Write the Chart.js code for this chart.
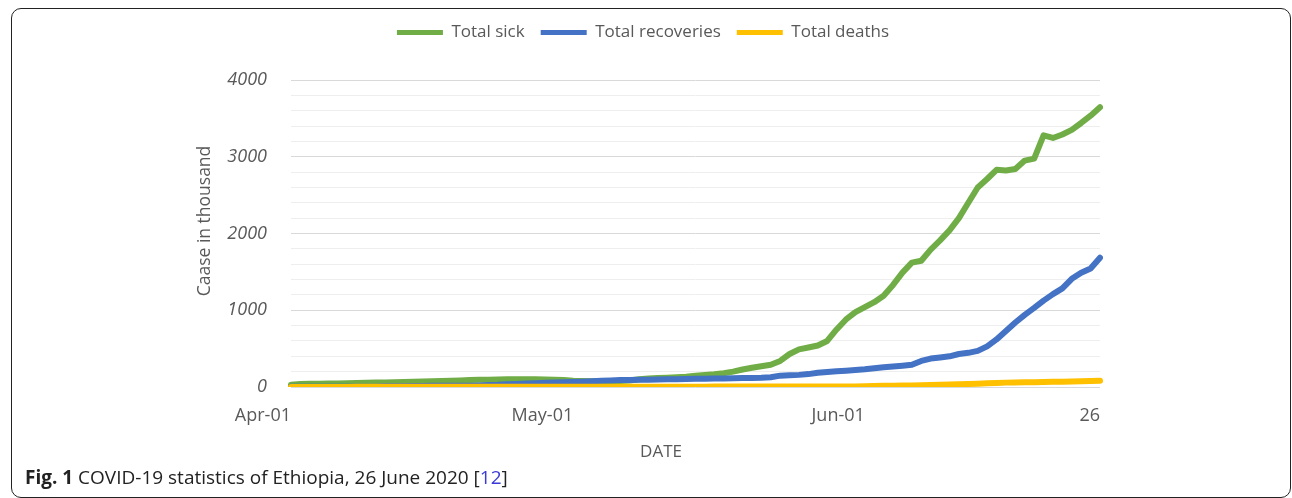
<!DOCTYPE html>
<html>
<head>
<meta charset="utf-8">
<script src="https://cdn.jsdelivr.net/npm/chart.js@4.4.0/dist/chart.umd.min.js"></script>
<style>
  html, body { margin: 0; padding: 0; background: #fff; }
  body { width: 1292px; height: 498px; position: relative; overflow: hidden; font-family: "Open Sans", sans-serif; }
  #frame { position: absolute; left: 11px; top: 8px; width: 1278px; height: 488px; border: 1px solid #222; border-radius: 10px; }
  #chartBox { position: absolute; left: 0; top: 0; width: 1292px; height: 498px; }
  #caption { position: absolute; left: 25px; top: 464px; font-size: 19px; color: #222; white-space: nowrap; }
  #caption b { font-weight: 700; }
  #caption .ref { color: #3a3ad6; }
</style>
</head>
<body>
<div id="frame"></div>
<div id="chartBox"><canvas id="covidChart" width="1292" height="498"></canvas></div>
<div id="caption"><b>Fig. 1</b> COVID-19 statistics of Ethiopia, 26 June 2020 [<span class="ref">12</span>]</div>
<script>
/* daily categories, 1 April .. 26 June 2020 */
const dates = [];
for (let d = new Date(2020, 3, 1); d <= new Date(2020, 5, 26); d.setDate(d.getDate() + 1)) {
  dates.push(d.toISOString().slice(0, 10));
}

// values (thousand, as labelled)
const totalSick = [
  30, 40, 42, 43, 45, 47, 50, 52, 55, 58,
  60, 63, 66, 69, 72, 75, 78, 82, 86, 90,
  93, 96, 98, 100, 101, 101, 100, 98, 95, 90,
  82, 78, 76, 75, 76, 78, 85, 100, 110, 117,
  122, 128, 135, 147, 155, 165, 180, 200, 228, 250,
  270, 290, 340, 430, 490, 515, 540, 600, 750, 880,
  975, 1040, 1105, 1190, 1330, 1490, 1620, 1645, 1790, 1910,
  2040, 2200, 2400, 2600, 2710, 2830, 2820, 2840, 2950, 2975,
  3280, 3245, 3290, 3350, 3440, 3535, 3645
];
const totalRecoveries = [
  4, 4, 4, 4, 4, 4, 4, 4, 4, 4,
  10, 10, 10, 12, 14, 15, 15, 16, 16, 16,
  21, 25, 28, 35, 40, 45, 50, 55, 58, 62,
  65, 70, 75, 80, 86, 90, 92, 94, 96, 98,
  100, 102, 104, 106, 108, 110, 112, 114, 116, 118,
  120, 128, 148, 152, 158, 168, 185, 195, 205, 212,
  220, 230, 245, 258, 268, 278, 290, 340, 370, 385,
  400, 430, 445, 470, 530, 620, 730, 840, 940, 1030,
  1125, 1210, 1285, 1410, 1490, 1545, 1685
];
const totalDeaths = [
  0, 0, 0, 0, 0, 1, 1, 2, 2, 2,
  2, 2, 2, 2, 2, 3, 3, 3, 3, 3,
  3, 3, 3, 3, 3, 3, 3, 3, 3, 3,
  3, 3, 3, 3, 3, 3, 3, 4, 4, 4,
  4, 4, 4, 4, 4, 5, 5, 5, 5, 5,
  5, 5, 5, 5, 5, 5, 5, 6, 7, 8,
  8, 11, 14, 15, 17, 18, 20, 24, 27, 29,
  32, 35, 40, 43, 48, 52, 57, 60, 61, 63,
  65, 68, 70, 72, 75, 78, 82
];

const seriesNames = ["Total sick", "Total recoveries", "Total deaths"];
const seriesColors = ["#70AD47", "#4472C4", "#FFC000"];

const xTickIndex = [0, 30, 61, 86];
const xTickText = ["Apr-01", "May-01", "Jun-01", "26"];
const yMax = 4000;

const textColor = "#595959";
const fontFamily = "'Open Sans', sans-serif";

/* axis titles sit where Excel put them, not centred on the plot */
const axisTitles = {
  id: "axisTitles",
  afterDraw(chart) {
    const ctx = chart.ctx;
    ctx.save();
    ctx.fillStyle = textColor;
    ctx.textAlign = "center";
    ctx.textBaseline = "middle";
    ctx.font = "17px " + fontFamily;
    ctx.fillText("DATE", 661, 452);
    ctx.font = "17.5px " + fontFamily;
    ctx.translate(205, 221);
    ctx.rotate(-Math.PI / 2);
    ctx.fillText("Caase in thousand", 0, 0);
    ctx.restore();
  }
};

/* legend is not centred on the plot in the original; nudge it */
const legendNudge = {
  id: "legendNudge",
  afterLayout(chart) {
    const lg = chart.legend;
    if (!lg) return;
    const dx = 93, top = 8;
    const h = lg.bottom - lg.top;
    lg.left += dx; lg.right += dx;
    lg.top = top; lg.bottom = top + h;
  }
};

const ctx = document.getElementById("covidChart").getContext("2d");
new Chart(ctx, {
  type: "line",
  data: {
    labels: dates,
    datasets: [totalSick, totalRecoveries, totalDeaths].map((vals, i) => ({
      label: seriesNames[i],
      data: vals,
      borderColor: seriesColors[i],
      backgroundColor: seriesColors[i],
      borderWidth: 6,
      borderCapStyle: "round",
      borderJoinStyle: "round",
      pointRadius: 0,
      tension: 0,
      order: 3 - i
    }))
  },
  options: {
    responsive: false,
    animation: false,
    layout: { padding: { top: 37, right: 192, bottom: 0, left: 0 } },
    plugins: {
      legend: {
        position: "top",
        labels: {
          color: textColor,
          font: { family: fontFamily, size: 17 },
          boxWidth: 46,
          boxHeight: 5,
          padding: 16,
          useBorderRadius: true,
          borderRadius: 2.5,
          generateLabels: chart => chart.data.datasets.map((ds, i) => ({
            text: ds.label,
            fillStyle: ds.borderColor,
            strokeStyle: ds.borderColor,
            lineWidth: 0,
            fontColor: textColor,
            datasetIndex: i,
            hidden: false
          }))
        }
      },
      tooltip: { enabled: false }
    },
    scales: {
      x: {
        type: "category",
        offset: false,
        grid: { display: false },
        border: { display: false },
        afterFit: scale => { scale.height = 111; },
        afterBuildTicks: scale => {
          scale.ticks = scale.ticks.filter(t => xTickIndex.includes(t.value));
        },
        ticks: {
          autoSkip: false,
          maxRotation: 0,
          align: "end",
          padding: 10,
          color: textColor,
          font: { family: fontFamily, size: 18 },
          callback: v => xTickText[xTickIndex.indexOf(v)]
        }
      },
      y: {
        min: 0,
        max: yMax,
        afterFit: scale => { scale.width = 291; },
        border: { display: false },
        grid: {
          drawTicks: false,
          color: c => (c.tick && c.tick.value % 1000 === 0) ? "#d9d9d9" : "#eeeeee",
          lineWidth: 1
        },
        ticks: {
          stepSize: 200,
          autoSkip: false,
          padding: 24,
          color: textColor,
          font: { family: fontFamily, size: 18, style: "italic" },
          callback: v => (v % 1000 === 0 ? v : "")
        }
      }
    }
  },
  plugins: [axisTitles, legendNudge]
});
</script>
</body>
</html>
